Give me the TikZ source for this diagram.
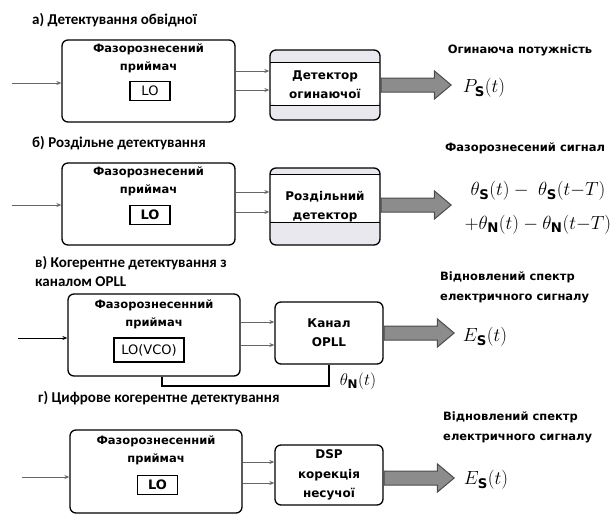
\RequirePackage{fix-cm}
\documentclass[tikz,border=0pt]{standalone}
\usepackage{fontspec}
\setmainfont{DejaVu Sans}
\newfontfamily\titlefont{Carlito}
\usetikzlibrary{arrows.meta,shapes.arrows,positioning}
\definecolor{bandgray}{RGB}{232,232,238}
\tikzset{
  rxbox/.style={draw, line width=1.3pt, rounded corners=6pt, minimum width=173pt, minimum height=82pt},
  lobox/.style={draw, line width=1.2pt, inner sep=1.5pt, minimum width=40pt, minimum height=19pt, font=\fontsize{13}{13}\selectfont},
  blocktxt/.style={font=\bfseries\fontsize{11.5}{18}\selectfont, align=center, inner sep=0pt},
  procbox/.style={draw, line width=1.3pt, rounded corners=6pt, minimum width=108pt, align=center, font=\bfseries\fontsize{12}{19}\selectfont},
  detbox/.style 2 args={procbox, fill=bandgray, minimum width=110pt,
    path picture={
      \fill[white] ([yshift=-#1]path picture bounding box.north west) rectangle ([yshift=#2]path picture bounding box.south east);
      \draw[line width=0.6pt] ([yshift=-#1]path picture bounding box.north west) -- ([yshift=-#1]path picture bounding box.north east);
      \draw[line width=0.6pt] ([yshift=#2]path picture bounding box.south west) -- ([yshift=#2]path picture bounding box.south east);}},
  sig/.style={draw=black!60, line width=0.8pt, -{Stealth[length=5pt,width=4pt]}},
  outarrow/.style={single arrow, draw=black!70, fill=black!45, line width=1pt, inner xsep=0pt, inner ysep=6.5pt,
    minimum width=21pt, minimum height=70pt, single arrow tip angle=80, anchor=west},
  paneltitle/.style={font=\titlefont\bfseries\fontsize{15}{19}\selectfont, align=left, anchor=west, inner sep=0pt},
  outtxt/.style={font=\bfseries\fontsize{11.5}{20}\selectfont, align=left, inner sep=0pt},
  outmath/.style={font=\fontsize{19}{34}\selectfont, inner sep=0pt}
}
\begin{document}
\begin{tikzpicture}[x=1pt,y=-1pt]
  \useasboundingbox (0,0) rectangle (613,514);
  % a) envelope detection
  \node[paneltitle] (ta) at (32,20) {а) Детектування обвідної};
  \node[rxbox] (rxa) at (148.5,81) {};
  \node[blocktxt, below=4pt of rxa.north] (rxatxt) {Фазорознесений\\приймач};
  \node[lobox] (loa) at (150,91) {LO};
  \node[procbox, detbox={12pt}{15pt}, minimum height=70pt] (da) at (325,85) {Детектор\\огинаючої};
  \coordinate (ina) at (12,83);
  \draw[sig] (ina) -- (ina -| rxa.west);
  \draw[sig] ([yshift=14pt]da.west -| rxa.east) -- ([yshift=14pt]da.west);
  \draw[sig] ([yshift=-5pt]da.west -| rxa.east) -- ([yshift=-5pt]da.west);
  \node[outarrow] (oa) at (da.east) {};
  \node[outtxt] (la) at (520,50) {Огинаюча потужність};
  \node[outmath] (ma) at (484,88) {$P_{\mathbf{S}}(t)$};

  % b) separate detection
  \node[paneltitle] (tb) at (32,143) {б) Роздільне детектування};
  \node[rxbox] (rxb) at (148.5,204) {};
  \node[blocktxt, below=4pt of rxb.north] (rxbtxt) {Фазорознесений\\приймач};
  \node[lobox, font=\bfseries\fontsize{13}{13}\selectfont] (lob) at (150,215) {LO};
  \node[procbox, detbox={6pt}{23pt}, minimum height=77pt] (db) at (325,206.5) {Роздільний\\детектор};
  \coordinate (inb) at (12,205);
  \draw[sig] (inb) -- (inb -| rxb.west);
  \draw[sig] ([yshift=14.5pt]db.west -| rxb.east) -- ([yshift=14.5pt]db.west);
  \draw[sig] ([yshift=-5.5pt]db.west -| rxb.east) -- ([yshift=-5.5pt]db.west);
  \node[outarrow] (ob) at ([yshift=1.5pt]db.east) {};
  \node[outtxt] (lb) at (525,148) {Фазорознесений сигнал};
  \node[outmath, align=center] (mb) at (538,208) {$\theta_{\mathbf{S}}(t)-\;\theta_{\mathbf{S}}(t{-}T)$\\$+\theta_{\mathbf{N}}(t)-\theta_{\mathbf{N}}(t{-}T)$};

  % c) coherent detection with OPLL
  \node[paneltitle] (tc) at (35,271.5) {в) Когерентне детектування з\\каналом OPLL};
  \node[rxbox, minimum width=172pt] (rxc) at (154,335) {};
  \node[blocktxt, below=6pt of rxc.north] (rxctxt) {Фазорознесенний\\приймач};
  \node[lobox, minimum width=70pt, minimum height=24pt] (loc) at (149,350) {LO(VCO)};
  \node[procbox, minimum height=62pt] (pc) at (329,333) {Канал\\OPLL};
  \coordinate (inc) at (18,338);
  \draw[sig, draw=black] (inc) -- (inc -| rxc.west);
  \draw[sig] ([yshift=11pt]pc.west -| rxc.east) -- ([yshift=11pt]pc.west);
  \draw[sig] ([yshift=-12pt]pc.west -| rxc.east) -- ([yshift=-12pt]pc.west);
  \coordinate (fb) at (162,386);
  \draw[line width=1.2pt] (fb |- rxc.south) -- (fb) -| (pc.south);
  \node[outmath, font=\fontsize{17}{20}\selectfont] (thc) at (358,381) {$\theta_{\mathbf{N}}(t)$};
  \node[outarrow] (oc) at (pc.east) {};
  \node[outtxt, anchor=west] (lc) at (440,287) {Відновлений спектр\\електричного сигналу};
  \node[outmath] (mc) at (485,337) {$E_{\mathbf{S}}(t)$};

  % d) digital coherent detection
  \node[paneltitle] (td) at (38,398) {г) Цифрове когерентне детектування};
  \node[rxbox, minimum width=172pt, minimum height=83pt] (rxd) at (156,471.5) {};
  \node[blocktxt, below=6pt of rxd.north] (rxdtxt) {Фазорознесенний\\приймач};
  \node[lobox, font=\bfseries\fontsize{13}{13}\selectfont] (lod) at (157.5,485) {LO};
  \node[procbox, minimum height=60pt, font=\bfseries\fontsize{12}{19.5}\selectfont] (pd) at (329,475) {DSP\\корекція\\несучої};
  \coordinate (ind) at (22,477);
  \draw[sig] (ind) -- (ind -| rxd.west);
  \draw[sig] ([yshift=13pt]pd.west -| rxd.east) -- ([yshift=13pt]pd.west);
  \draw[sig] ([yshift=-8pt]pd.west -| rxd.east) -- ([yshift=-8pt]pd.west);
  \node[outarrow] (od) at ([yshift=-3pt]pd.east) {};
  \node[outtxt, anchor=west] (ld) at (443,427) {Відновлений спектр\\електричного сигналу};
  \node[outmath] (md) at (486,480) {$E_{\mathbf{S}}(t)$};
\end{tikzpicture}
\end{document}
